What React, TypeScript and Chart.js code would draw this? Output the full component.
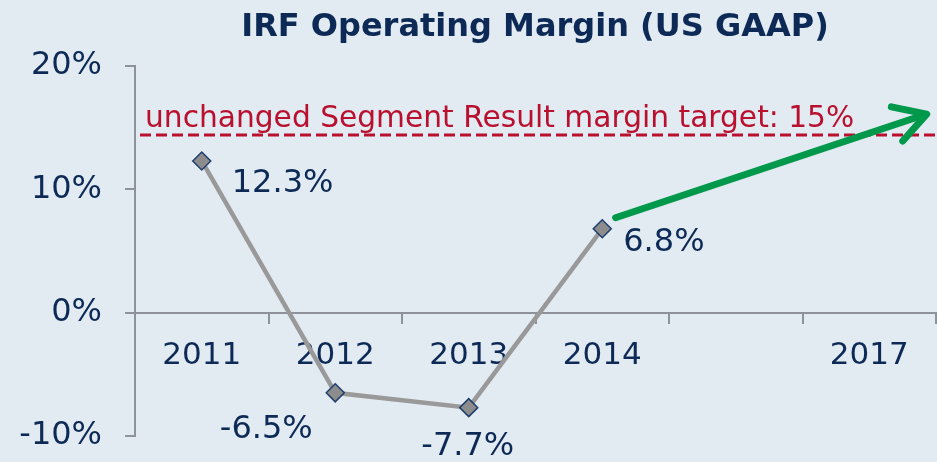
import React, { useEffect, useRef } from "react";
import { Chart, registerables } from "chart.js";

Chart.register(...registerables);

const TITLE = "IRF Operating Margin (US GAAP)";
const CATEGORIES = ["2011", "2012", "2013", "2014", "", "2017"];
const MARGIN = [12.3, -6.5, -7.7, 6.8, null, null];
const VALUE_LABELS = ["12.3%", "-6.5%", "-7.7%", "6.8%"];
const Y_TICKS = [-10, 0, 10, 20];
const TARGET_VALUE = 14.4;
const TARGET_TEXT = "unchanged Segment Result margin target: 15%";
const ARROW_FROM = { x: 3.1, y: 7.7 };
const ARROW_TO = { x: 5.43, y: 16.1 };

const BG = "#e2eaf2";
const NAVY = "#0c2a55";
const RED = "#b8102e";
const GREEN = "#00984a";
const AXIS = "#8e929b";
const FONT = "'DejaVu Sans', Verdana, sans-serif";

// label placement (pixel offsets from the point), style only
const LABEL_OFFSETS = [
  { dx: 30, dy: 23, align: "left" },
  { dx: -69, dy: 37, align: "center" },
  { dx: -1, dy: 39, align: "center" },
  { dx: 21, dy: 14, align: "left" },
];

const overlay = {
  id: "overlay",
  afterLayout(chart: any) {
    const target = chart.width - 1;
    const ca = chart.chartArea;
    const xs = chart.scales.x;
    if (ca.right !== target) {
      ca.right = target;
      ca.width = target - ca.left;
      xs.right = target;
      xs.width = target - xs.left;
      xs.configure();
    }
  },
  beforeDraw(chart: any) {
    const { ctx, width, height } = chart;
    ctx.save();
    ctx.fillStyle = BG;
    ctx.fillRect(0, 0, width, height);
    ctx.restore();
  },
  afterDraw(chart: any) {
    const { ctx, chartArea } = chart;
    const xs = chart.scales.x;
    const ys = chart.scales.y;
    ctx.save();
    // title
    ctx.fillStyle = NAVY;
    ctx.font = `bold 32px ${FONT}`;
    ctx.textAlign = "center";
    ctx.textBaseline = "alphabetic";
    ctx.fillText(TITLE, 535, 36);

    // target line
    const ty = ys.getPixelForValue(TARGET_VALUE);
    ctx.strokeStyle = RED;
    ctx.lineWidth = 3;
    ctx.setLineDash([11, 5]);
    ctx.beginPath();
    ctx.moveTo(chartArea.left + 5, ty);
    ctx.lineTo(chart.width, ty);
    ctx.stroke();
    ctx.setLineDash([]);
    ctx.fillStyle = RED;
    ctx.font = `29.7px ${FONT}`;
    ctx.textAlign = "left";
    ctx.fillText(TARGET_TEXT, chartArea.left + 10, ty - 8);

    // value labels
    const meta = chart.getDatasetMeta(0);
    ctx.fillStyle = NAVY;
    ctx.font = `32px ${FONT}`;
    ctx.textBaseline = "middle";
    VALUE_LABELS.forEach((t, i) => {
      const el = meta.data[i];
      const o = LABEL_OFFSETS[i];
      ctx.textAlign = o.align;
      ctx.fillText(t, el.x + o.dx, el.y + o.dy);
    });

    // arrow
    const x1 = xs.getPixelForValue(ARROW_FROM.x);
    const y1 = ys.getPixelForValue(ARROW_FROM.y);
    const x2 = xs.getPixelForValue(ARROW_TO.x);
    const y2 = ys.getPixelForValue(ARROW_TO.y);
    const ang = Math.atan2(y2 - y1, x2 - x1);
    ctx.strokeStyle = GREEN;
    ctx.lineWidth = 7;
    ctx.lineCap = "round";
    ctx.lineJoin = "round";
    ctx.beginPath();
    ctx.moveTo(x1, y1);
    ctx.lineTo(x2 - 3 * Math.cos(ang), y2 - 3 * Math.sin(ang));
    ctx.stroke();
    const L = 36;
    const a = (30 * Math.PI) / 180;
    ctx.beginPath();
    ctx.moveTo(x2 - L * Math.cos(ang - a), y2 - L * Math.sin(ang - a));
    ctx.lineTo(x2, y2);
    ctx.lineTo(x2 - L * Math.cos(ang + a), y2 - L * Math.sin(ang + a));
    ctx.stroke();
    ctx.restore();
  },
};

export default function App() {
  const ref = useRef<HTMLCanvasElement>(null);
  useEffect(() => {
    document.body.style.margin = "0";
    const chart = new Chart(ref.current as HTMLCanvasElement, {
      type: "line",
      data: {
        labels: CATEGORIES,
        datasets: [
          {
            data: MARGIN as any,
            borderColor: "#999999",
            borderWidth: 4.5,
            pointStyle: "rectRot",
            pointRadius: 9,
            pointBackgroundColor: "#8c8c8c",
            pointBorderColor: "#1f3f6e",
            pointBorderWidth: 1.5,
            tension: 0,
            spanGaps: false,
          },
        ],
      },
      options: {
        animation: false,
        responsive: false,
        layout: { padding: { top: 66, bottom: 26, left: 0, right: 1 } },
        plugins: { legend: { display: false }, tooltip: { enabled: false } },
        scales: {
          x: {
            position: { y: 0 } as any,
            offset: true,
            afterFit(scale: any) {
              scale.paddingLeft = 0;
              scale.paddingRight = 0;
              scale.paddingTop = 0;
              scale.paddingBottom = 0;
            },
            grid: {
              display: true,
              drawOnChartArea: false,
              drawTicks: true,
              tickLength: 10,
              offset: true,
              color: AXIS,
              lineWidth: 2,
            },
            border: { display: true, color: AXIS, width: 2 },
            ticks: {
              color: NAVY,
              font: { family: FONT, size: 31 },
              padding: 15,
              maxRotation: 0,
              autoSkip: false,
            },
          },
          y: {
            min: -10,
            max: 20,
            afterFit(scale: any) {
              scale.width = 135;
              scale.paddingTop = 0;
              scale.paddingBottom = 0;
              scale.paddingLeft = 0;
              scale.paddingRight = 0;
            },
            afterBuildTicks(scale: any) {
              scale.ticks = Y_TICKS.map((v) => ({ value: v }));
            },
            grid: {
              display: true,
              drawOnChartArea: false,
              drawTicks: true,
              tickLength: 10,
              color: AXIS,
              lineWidth: 2,
            },
            border: { display: true, color: AXIS, width: 2 },
            ticks: {
              color: NAVY,
              font: { family: FONT, size: 32 },
              padding: 23,
              callback: (v: any) => `${v}%`,
            },
          },
        },
      },
      plugins: [overlay],
    });
    return () => chart.destroy();
  }, []);
  return (
    <div style={{ width: 937, height: 462 }}>
      <canvas ref={ref} width={937} height={462} style={{ display: "block" }} />
    </div>
  );
}
